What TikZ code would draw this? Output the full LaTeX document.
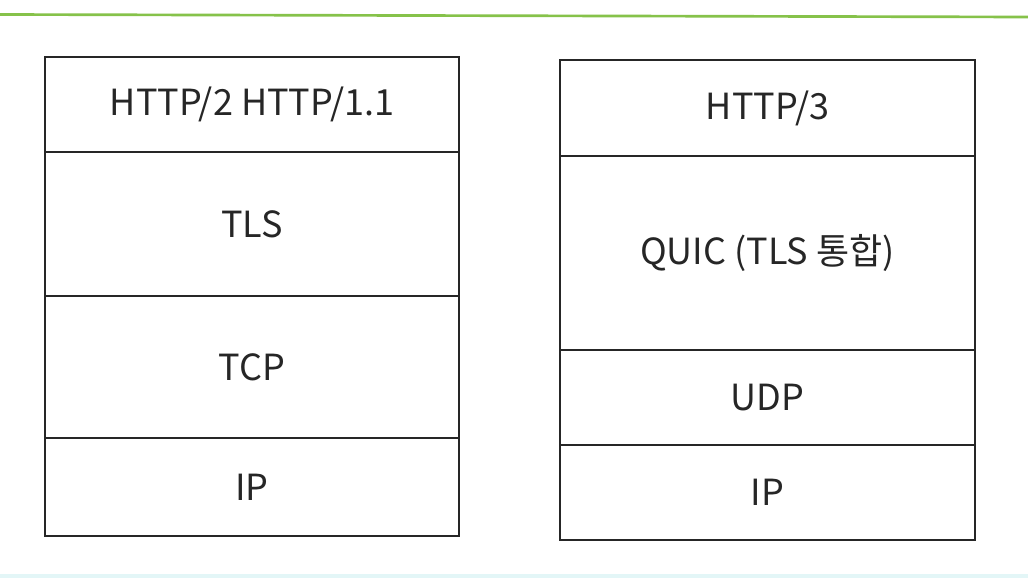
\documentclass[tikz,border=0pt]{standalone}
\usepackage{fontspec}
\setmainfont{Noto Sans CJK KR}
\definecolor{rulegreen}{HTML}{86C24A}
\definecolor{rulecyan}{HTML}{E3F6F7}
\begin{document}
\begin{tikzpicture}[x=0.75pt,y=-0.75pt,
  layer/.style={draw=black!85,line width=1.3pt,inner sep=0pt,outer sep=0pt,anchor=north west,
    font=\fontsize{27}{30}\selectfont,text=black!85},
]
\useasboundingbox (0,0) rectangle (1028,578);
% page rules
\draw[rulegreen,line width=2pt] (0,14.5) -- (1028,17);
\fill[rulecyan] (0,574) rectangle (1028,578);

% left stack: HTTP/2, HTTP/1.1 over TLS and TCP
\node[layer,minimum width=414pt*0.75,minimum height=95pt*0.75] (l1) at (45,57) {HTTP/2 HTTP/1.1};
\node[layer,minimum width=414pt*0.75,minimum height=144pt*0.75,anchor=north] (l2) at (l1.south) {TLS};
\node[layer,minimum width=414pt*0.75,minimum height=142pt*0.75,anchor=north] (l3) at (l2.south) {TCP};
\node[layer,minimum width=414pt*0.75,minimum height=98pt*0.75,anchor=north] (l4) at (l3.south) {IP};

% right stack: HTTP/3 over QUIC and UDP
\node[layer,minimum width=415pt*0.75,minimum height=96pt*0.75] (r1) at (560,60) {HTTP/3};
\node[layer,minimum width=415pt*0.75,minimum height=194pt*0.75,anchor=north] (r2) at (r1.south) {QUIC (TLS 통합)};
\node[layer,minimum width=415pt*0.75,minimum height=95pt*0.75,anchor=north] (r3) at (r2.south) {UDP};
\node[layer,minimum width=415pt*0.75,minimum height=95pt*0.75,anchor=north] (r4) at (r3.south) {IP};
\end{tikzpicture}
\end{document}
